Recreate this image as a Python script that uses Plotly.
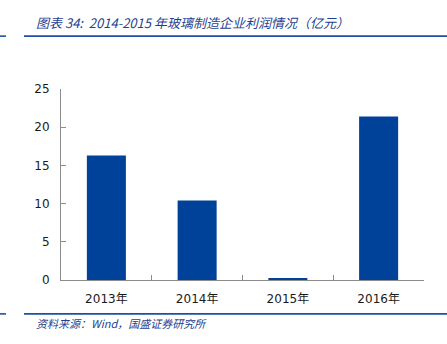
import plotly.graph_objects as go

# Profit of glass manufacturers, 100 million yuan
years = ["2013年", "2014年", "2015年", "2016年"]
profit = [16.3, 10.4, 0.25, 21.4]
y_ticks = [0, 5, 10, 15, 20, 25]

BAR_BLUE = "#00419A"
TEXT_BLUE = "#1F3F8F"
AXIS_GREY = "#8C8C8C"

W, H = 447, 344
L, R, T, B = 61, 23, 88.5, 64
PW, PH = W - L - R, H - T - B


def px_x(x):
    return (x - L) / PW


def px_y(y):
    return (H - B - y) / PH


fig = go.Figure(
    go.Bar(
        x=years,
        y=profit,
        marker=dict(color=BAR_BLUE, line=dict(width=0)),
        width=0.43,
    )
)

shapes = []
for yy in (35.5, 314):
    for x0, x1 in ((0, 6), (24, 447)):
        shapes.append(dict(
            type="line", xref="paper", yref="paper",
            x0=px_x(x0), x1=px_x(x1), y0=px_y(yy), y1=px_y(yy),
            line=dict(color="#1F4FA0", width=1.6),
        ))

annotations = [
    dict(
        text="<i>图表 34:  2014-2015 年玻璃制造企业利润情况（亿元）</i>",
        xref="paper", yref="paper", x=px_x(34), y=px_y(22),
        xanchor="left", yanchor="middle", showarrow=False,
        font=dict(family="Noto Sans CJK SC", size=13, color=TEXT_BLUE),
    ),
    dict(
        text="<i>资料来源：Wind，国盛证券研究所</i>",
        xref="paper", yref="paper", x=px_x(34), y=px_y(323),
        xanchor="left", yanchor="middle", showarrow=False,
        font=dict(family="Noto Sans CJK SC", size=11, color=TEXT_BLUE),
    ),
]

fig.update_layout(
    width=W, height=H,
    margin=dict(l=L, r=R, t=T, b=B),
    paper_bgcolor="white", plot_bgcolor="white",
    showlegend=False,
    bargap=0.57,
    shapes=shapes,
    annotations=annotations,
    font=dict(family="DejaVu Sans, Noto Sans CJK SC", size=12, color="#1a1a1a"),
    xaxis=dict(
        type="category",
        showline=True, linecolor=AXIS_GREY, linewidth=1,
        ticks="inside", tickson="boundaries", ticklen=5,
        tickcolor=AXIS_GREY, showgrid=False,
        ticklabelstandoff=8,
        tickfont=dict(size=12),
    ),
    yaxis=dict(
        range=[0, 25], tickvals=y_ticks,
        showline=True, linecolor=AXIS_GREY, linewidth=1,
        ticks="inside", ticklen=5, tickcolor=AXIS_GREY,
        showgrid=False, zeroline=False,
        ticklabelstandoff=8,
        tickfont=dict(size=12),
    ),
)

fig.write_html("out.html")
